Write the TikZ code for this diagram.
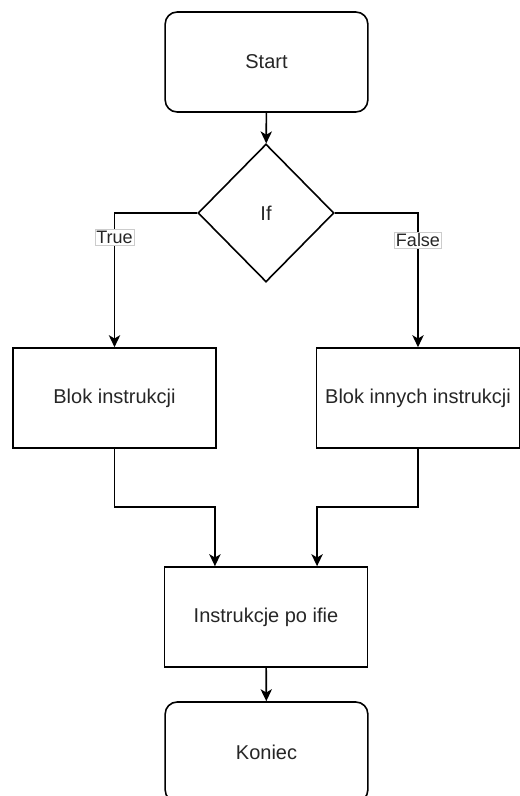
\documentclass[tikz,border=0pt]{standalone}
\usepackage{fontspec}
\setmainfont{Liberation Sans}
\usetikzlibrary{shapes.geometric,arrows.meta,calc}
\begin{document}
\begin{tikzpicture}[x=0.75pt,y=-0.75pt,
 every node/.style={font=\fontsize{15}{18}\selectfont, text=black!85},
 box/.style={draw, line width=1.2pt, minimum width=152pt, minimum height=75pt, inner sep=0pt},
 term/.style={box, rounded corners=9pt},
 dec/.style={draw, diamond, line width=1.2pt, minimum width=102pt, minimum height=103.5pt, inner sep=0pt},
 conn/.style={line width=1.2pt, -{Stealth[length=9pt,width=8.5pt,inset=2.5pt]}},
 lbl/.style={fill=white, draw=gray!40, line width=0.4pt, inner sep=1pt, font=\fontsize{13.5}{16}\selectfont}]
\useasboundingbox (0,0) rectangle (519,796);
\node[term] (start) at (266.5,62) {Start};
\node[dec] (if) at (266,213) {If};
\node[box] (b1) at (114.5,398) {Blok instrukcji};
\node[box] (b2) at (418,398) {Blok innych instrukcji};
\node[box] (ins) at (266,617) {Instrukcje po ifie};
\node[term] (kon) at (266.5,752) {Koniec};
\coordinate (insL) at ($(ins.north west)!0.25!(ins.north east)$);
\coordinate (insR) at ($(ins.north west)!0.75!(ins.north east)$);
\coordinate (jl) at (114.5,507);
\coordinate (jr) at (418,507);
\draw[conn] (start) -- (if);
\draw[conn] (if.west) -| node[lbl, pos=0.59] {True} (b1.north);
\draw[conn] (if.east) -| node[lbl, pos=0.6] {False} (b2.north);
\draw[conn] (b1.south) -- (jl) -| (insL);
\draw[conn] (b2.south) -- (jr) -| (insR);
\draw[conn] (ins) -- (kon);
\end{tikzpicture}
\end{document}
